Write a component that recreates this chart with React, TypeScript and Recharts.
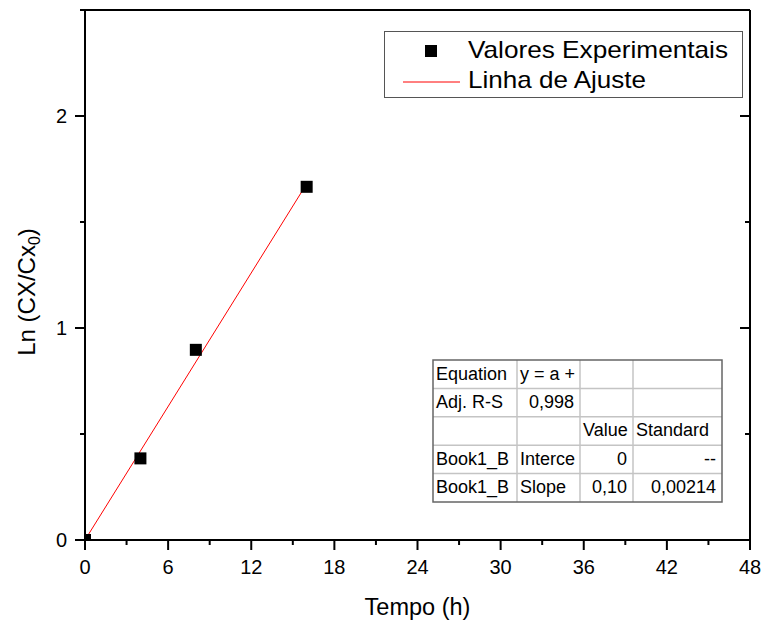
import React from 'react';
import { ComposedChart, Scatter, Line, XAxis, YAxis, Legend, Label } from 'recharts';

const FONT = '"Liberation Sans", Arial, Helvetica, sans-serif';

// experimental points
const tempo = [0, 4, 8, 16];
const lnRatio = [0, 0.385, 0.897, 1.666];

// linear fit
const fitTempo = [0, 16];
const fitLn = [0, 1.68];

const xTicks = [0, 3, 6, 9, 12, 15, 18, 21, 24, 27, 30, 33, 36, 39, 42, 45, 48];
const yTicks = [0, 0.5, 1, 1.5, 2, 2.5];

const tableRows = [
  ['Equation', 'y = a +', '', ''],
  ['Adj. R-S', '0,998', '', ''],
  ['', '', 'Value', 'Standard'],
  ['Book1_B', 'Interce', '0', '--'],
  ['Book1_B', 'Slope', '0,10', '0,00214'],
];

const points = tempo.map((x, i) => ({ x, y: lnRatio[i] }));
const fitLine = fitTempo.map((x, i) => ({ x, y: fitLn[i] }));

const axisStyle = { stroke: '#000', strokeWidth: 2 };

function BottomTick({ x, y, payload }: any) {
  const major = payload.value % 6 === 0;
  return (
    <g>
      <line x1={x} x2={x} y1={y} y2={y + (major ? 10 : 5)} stroke="#000" strokeWidth={2} />
      {major && (
        <text x={x} y={y + 34} textAnchor="middle" fontSize={20} fontFamily={FONT} fill="#000">
          {payload.value}
        </text>
      )}
    </g>
  );
}

function TopTick({ x, y, payload }: any) {
  const major = payload.value % 6 === 0;
  return <line x1={x} x2={x} y1={y} y2={y + (major ? 10 : 5)} stroke="#000" strokeWidth={2} />;
}

function LeftTick({ x, y, payload }: any) {
  const major = Number.isInteger(payload.value);
  return (
    <g>
      <line x1={x - (major ? 10 : 5)} x2={x} y1={y} y2={y} stroke="#000" strokeWidth={2} />
      {major && (
        <text x={x - 18} y={y + 7} textAnchor="end" fontSize={20} fontFamily={FONT} fill="#000">
          {payload.value}
        </text>
      )}
    </g>
  );
}

function RightTick({ x, y, payload }: any) {
  const major = Number.isInteger(payload.value);
  return <line x1={x - (major ? 10 : 5)} x2={x} y1={y} y2={y} stroke="#000" strokeWidth={2} />;
}

function XTitle({ viewBox }: any) {
  return (
    <text x={viewBox.x + viewBox.width / 2} y={viewBox.y + 75} textAnchor="middle" fontSize={23.5} fontFamily={FONT} fill="#000">
      Tempo (h)
    </text>
  );
}

function YTitle({ viewBox }: any) {
  const bx = viewBox.x + 35;
  const cy = viewBox.y + viewBox.height / 2 + 17;
  return (
    <g transform={`translate(${bx},${cy}) rotate(-90)`}>
      <text x={0} y={0} textAnchor="middle" fontSize={24} fontFamily={FONT} fill="#000">
        Ln (CX/Cx<tspan fontSize={16} dy={5}>0</tspan>
        <tspan dy={-5}>)</tspan>
      </text>
    </g>
  );
}

function Square({ cx, cy }: any) {
  return <rect x={cx - 6} y={cy - 6} width={12} height={12} fill="#000" />;
}

function LegendBox() {
  return (
    <svg width={360} height={68} style={{ display: 'block' }}>
      <rect x={0.5} y={0.5} width={358} height={66} fill="#fff" stroke="#555" strokeWidth={1} />
      <rect x={41} y={14} width={12} height={12} fill="#000" />
      <text x={84} y={27} fontSize={24} fontFamily={FONT} fill="#000" textLength={260} lengthAdjust="spacingAndGlyphs">
        Valores Experimentais
      </text>
      <line x1={19} x2={76} y1={51} y2={51} stroke="#ff0000" strokeWidth={1} />
      <text x={84} y={57} fontSize={24} fontFamily={FONT} fill="#000" textLength={178} lengthAdjust="spacingAndGlyphs">
        Linha de Ajuste
      </text>
    </svg>
  );
}

const colX = [433, 517, 580, 633, 722];
const tableTop = 360;
const rowH = 28.4;

function FitTable() {
  const bottom = tableTop + rowH * tableRows.length;
  return (
    <svg width={763} height={623} style={{ position: 'absolute', left: 0, top: 0, pointerEvents: 'none' }}>
      <rect x={colX[0]} y={tableTop} width={colX[4] - colX[0]} height={bottom - tableTop} fill="#fff" />
      {tableRows.slice(1).map((_, i) => (
        <line key={'h' + i} x1={colX[0]} x2={colX[4]} y1={tableTop + rowH * (i + 1)} y2={tableTop + rowH * (i + 1)} stroke="#c4c4c4" strokeWidth={1.5} />
      ))}
      {colX.slice(1, 4).map((cx, i) => (
        <line key={'v' + i} x1={cx} x2={cx} y1={tableTop} y2={bottom} stroke="#c4c4c4" strokeWidth={1.5} />
      ))}
      <rect x={colX[0]} y={tableTop} width={colX[4] - colX[0]} height={bottom - tableTop} fill="none" stroke="#666" strokeWidth={1.5} />
      {tableRows.map((row, r) =>
        row.map((cell, c) => {
          if (!cell) return null;
          const numeric = /^[\d,\-]+$/.test(cell);
          return (
            <text
              key={r + '-' + c}
              x={numeric ? colX[c + 1] - 6 : colX[c] + 3}
              y={tableTop + rowH * r + 19.5}
              textAnchor={numeric ? 'end' : 'start'}
              fontSize={18}
              fontFamily={FONT}
              fill="#000"
            >
              {cell}
            </text>
          );
        })
      )}
    </svg>
  );
}

export default function App() {
  return (
    <div style={{ position: 'absolute', left: 0, top: 0, width: 763, height: 623, background: '#fff' }}>
      <ComposedChart width={763} height={623} margin={{ top: 0, right: 0, bottom: 0, left: 0 }}>
        <XAxis
          xAxisId="b"
          type="number"
          dataKey="x"
          domain={[0, 48]}
          ticks={xTicks}
          interval={0}
          allowDataOverflow
          height={83}
          tickSize={0}
          tickMargin={0}
          tickLine={false}
          tick={BottomTick}
          axisLine={axisStyle}
        >
          <Label content={XTitle} />
        </XAxis>
        <XAxis
          xAxisId="t"
          orientation="top"
          type="number"
          domain={[0, 48]}
          ticks={xTicks}
          interval={0}
          allowDataOverflow
          height={10}
          tickSize={0}
          tickMargin={0}
          tickLine={false}
          tick={TopTick}
          axisLine={axisStyle}
        />
        <YAxis
          yAxisId="l"
          type="number"
          dataKey="y"
          domain={[0, 2.5]}
          ticks={yTicks}
          interval={0}
          allowDataOverflow
          width={85}
          tickSize={0}
          tickMargin={0}
          tickLine={false}
          tick={LeftTick}
          axisLine={axisStyle}
        >
          <Label content={YTitle} />
        </YAxis>
        <YAxis
          yAxisId="r"
          orientation="right"
          type="number"
          domain={[0, 2.5]}
          ticks={yTicks}
          interval={0}
          allowDataOverflow
          width={13}
          tickSize={0}
          tickMargin={0}
          tickLine={false}
          tick={RightTick}
          axisLine={axisStyle}
        />
        <Line
          xAxisId="b"
          yAxisId="l"
          data={fitLine}
          dataKey="y"
          name="Linha de Ajuste"
          stroke="#ff0000"
          strokeWidth={1}
          dot={false}
          isAnimationActive={false}
        />
        <Scatter
          xAxisId="b"
          yAxisId="l"
          data={points}
          dataKey="y"
          name="Valores Experimentais"
          fill="#000"
          shape={Square}
          isAnimationActive={false}
        />
        <Legend
          layout="horizontal"
          verticalAlign="middle"
          align="center"
          content={LegendBox}
          wrapperStyle={{ left: 384, top: 31, width: 360, height: 68 }}
        />
      </ComposedChart>
      <FitTable />
    </div>
  );
}
